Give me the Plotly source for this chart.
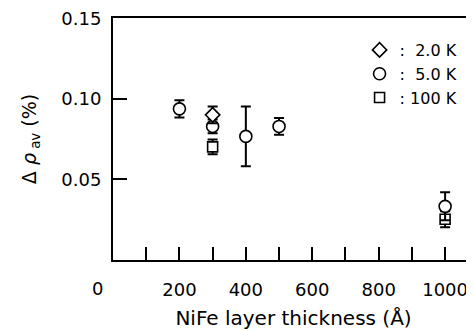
import plotly.graph_objects as go

# data
x_2k = [300]
y_2k = [0.0901]
e_2k = [0.0052]

x_5k = [200, 300, 400, 500, 1000]
y_5k = [0.0938, 0.0829, 0.0767, 0.0829, 0.0333]
e_5k = [0.0054, 0.0043, 0.0185, 0.0052, 0.0087]

x_100k = [300, 1000]
y_100k = [0.0702, 0.0253]
e_100k = [0.0046, 0.0050]

x_tickvals = list(range(0, 1200, 100))
x_ticktext = ["", "", "200", "", "400", "", "600", "", "800", "", "1000", ""]
y_tickvals = [0.05, 0.10, 0.15]
y_ticktext = ["0.05", "0.10", "0.15"]

FONT = "DejaVu Sans"

fig = go.Figure()

def add(x, y, e, sym, size, name):
    fig.add_trace(go.Scatter(
        x=x, y=y, mode="markers", name=name,
        marker=dict(symbol=sym, size=size, color="white",
                    line=dict(color="black", width=1.6)),
        error_y=dict(type="data", array=e, visible=True,
                     color="black", thickness=2, width=5),
    ))

add(x_100k, y_100k, e_100k, "square", 10, ":\u00a0100\u00a0K")
add(x_5k, y_5k, e_5k, "circle", 12, ":\u00a0\u00a05.0\u00a0K")
add(x_2k, y_2k, e_2k, "diamond", 11, ":\u00a0\u00a02.0\u00a0K")

fig.update_layout(
    width=474, height=331,
    margin=dict(l=105, r=8, t=10, b=79, autoexpand=False),
    paper_bgcolor="white", plot_bgcolor="white",
    font=dict(family=FONT, size=18, color="black"),
    showlegend=True,
    legend=dict(x=0.683, y=0.938, xanchor="left", yanchor="top",
                traceorder="reversed", bgcolor="rgba(0,0,0,0)",
                font=dict(size=16), itemwidth=30, tracegroupgap=0),
    xaxis=dict(
        range=[0, 1087], tickmode="array", tickvals=x_tickvals, ticktext=x_ticktext,
        ticks="inside", ticklen=13, tickwidth=2, tickcolor="black",
        showline=True, linewidth=2, linecolor="black", mirror=True,
        showgrid=False, zeroline=False, ticklabelstandoff=12, automargin=False,
        ticklabeloverflow="allow",
        title=dict(text="NiFe layer thickness (Å)", font=dict(size=20), standoff=12),
    ),
    yaxis=dict(
        range=[0, 0.1502], tickmode="array", tickvals=y_tickvals, ticktext=y_ticktext,
        ticks="inside", ticklen=14, tickwidth=2, tickcolor="black",
        showline=True, linewidth=2, linecolor="black", mirror=False,
        showgrid=False, zeroline=False, ticklabelstandoff=6, automargin=False,
        ticklabeloverflow="allow",
        title=dict(text="Δ <i>ρ</i><sub> av</sub> (%)", font=dict(size=19), standoff=20),
    ),
)

fig.add_annotation(text="0", x=-0.044, y=-0.116, xref="paper", yref="paper",
                   xanchor="center", yanchor="middle", showarrow=False,
                   font=dict(size=18, family=FONT))

fig.write_html("out.html")
